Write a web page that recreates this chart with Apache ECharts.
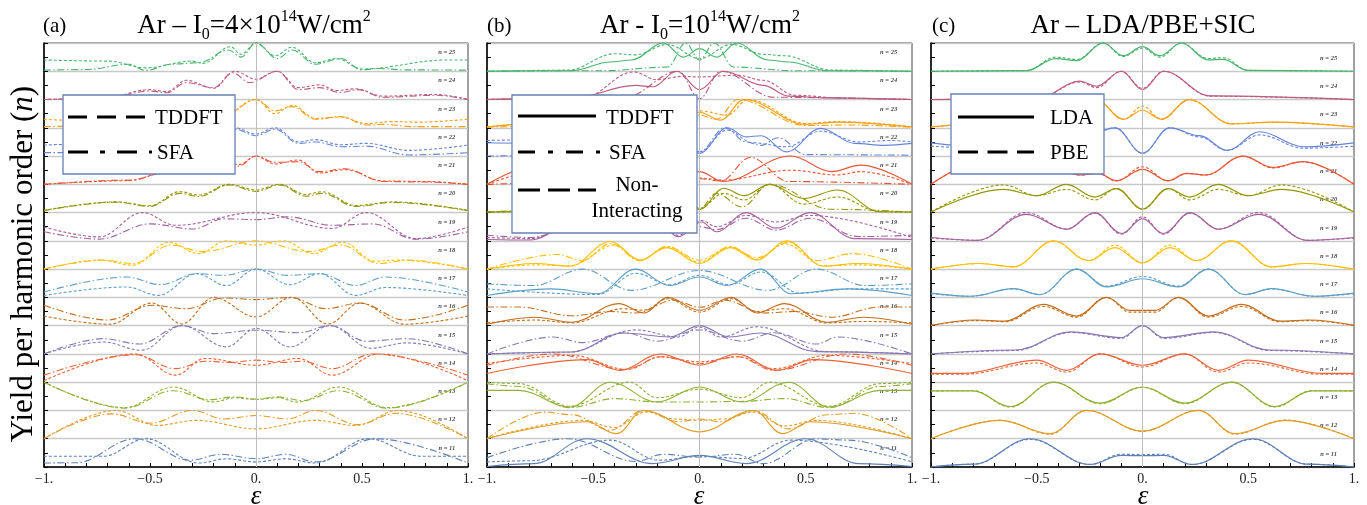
<!DOCTYPE html>
<html>
<head>
<meta charset="utf-8">
<script src="https://cdn.jsdelivr.net/npm/echarts@6/dist/echarts.min.js"></script>
<style>
html,body{margin:0;padding:0;background:#fff;}
#chart{width:1367px;height:505px;}
</style>
</head>
<body>
<div id="chart"></div>
<script>
// Harmonic orders stacked bottom (11) to top (25); one band per order.
const orders = [11,12,13,14,15,16,17,18,19,20,21,22,23,24,25];
const bandColors = ['#5e81b5','#e19c24','#8fb032','#eb6235','#8778b3','#c56e1a','#5d9ec7','#ffbf00',
                    '#a5609d','#929600','#e95536','#6685d9','#f89f13','#bc5b80','#47b66d'];
const xTickValues = [-1, -0.5, 0, 0.5, 1];

// Each entry: normalised yield (0..1 inside its band) at peaks/valleys of the curve, as [epsilon, yield].
// Panel (a): Ar, I0 = 4e14 W/cm2
const aTDDFT = [
 [[-1,.38],[-.72,.38],[-.52,1],[-.27,.14],[-.14,.29],[0,.18],[.14,.29],[.28,.14],[.53,1],[.78,.38],[1,.38]],
 [[-1,0],[-.66,1],[-.47,.47],[-.28,.65],[0,.35],[.28,.65],[.47,.47],[.67,1],[1,0]],
 [[-1,1],[-.62,.1],[-.39,.83],[-.2,.3],[-.1,.45],[0,.39],[.1,.45],[.2,.3],[.39,.83],[.62,.1],[1,1]],
 [[-1,.05],[-.57,1],[-.38,.25],[-.24,.84],[0,.6],[.2,.84],[.36,.25],[.58,1],[1,.05]],
 [[-1,0],[-.72,.42],[-.54,.13],[-.35,1],[-.14,.25],[0,.9],[.16,.25],[.35,1],[.54,.2],[.71,.39],[1,0]],
 [[-1,.34],[-.69,.05],[-.49,.8],[-.35,.06],[-.2,1],[0,.31],[.17,1],[.34,.06],[.49,.8],[.7,.05],[1,.34]],
 [[-1,.07],[-.61,.37],[-.46,.07],[-.28,.84],[-.14,.42],[0,1],[.16,.45],[.3,.84],[.47,.07],[.61,.35],[1,.07]],
 [[-1,0],[-.74,.32],[-.58,.14],[-.41,.95],[-.27,.55],[-.14,1],[0,.85],[.13,1],[.27,.55],[.41,.95],[.56,.28],[.68,.32],[1,0]],
 [[-1,.49],[-.74,.14],[-.535,1],[-.38,.55],[0,1],[.36,.44],[.52,1],[.755,.08],[1,.49]],
 [[-1,.08],[-.66,.38],[-.5,.24],[-.36,.74],[-.27,.62],[-.126,1],[0,.8],[.11,1],[.236,.64],[.31,.74],[.47,.25],[.645,.38],[1,.08]],
 [[-1,0],[-.6,.13],[-.4,.5],[-.28,.45],[-.17,.85],[-.08,.7],[0,1],[.09,.72],[.2,.86],[.3,.4],[.42,.52],[.6,.12],[.8,.1],[1,0]],
 [[-1,.39],[-.85,.42],[-.6,.3],[-.45,.5],[-.28,.55],[-.2,.45],[-.1,1],[0,.78],[.09,1],[.2,.5],[.28,.58],[.4,.4],[.52,.45],[.72,.2],[1,.39]],
 [[-1,.3],[-.8,.25],[-.6,.35],[-.45,.2],[-.3,.45],[-.17,.35],[0,1],[.09,.5],[.17,.8],[.28,.33],[.4,.38],[.52,.15],[.64,.22],[.76,.2],[1,.3]],
 [[-1,0],[-.72,.05],[-.5,.35],[-.42,.28],[-.33,.68],[-.2,.4],[-.1,1],[0,.72],[.1,1],[.2,.42],[.3,.52],[.38,.32],[.47,.38],[.6,.12],[.85,.18],[1,0]],
 [[-1,.4],[-.7,.36],[-.52,.12],[-.3,.36],[-.25,.28],[-.12,.87],[-.07,.6],[0,1],[.09,.55],[.17,.85],[.28,.3],[.38,.45],[.5,.08],[.9,.4],[1,.4]]
];
const aSFA = [
 [[-1,.14],[-.85,.15],[-.57,1],[-.31,.24],[-.165,.45],[0,.29],[.14,.45],[.28,.18],[.565,1],[1,.14]],
 [[-1,0],[-.68,.88],[-.5,.55],[-.3,1],[-.15,.7],[0,.82],[.15,.7],[.28,1],[.48,.5],[.66,.9],[1,0]],
 [[-1,1],[-.62,.08],[-.39,.7],[-.22,.38],[-.1,.48],[0,.4],[.1,.48],[.22,.35],[.39,.7],[.62,.08],[1,1]],
 [[-1,.25],[-.57,.97],[-.38,.48],[-.24,.74],[-.12,.7],[0,.78],[.12,.7],[.22,.74],[.36,.48],[.55,1],[1,.25]],
 [[-1,0],[-.72,.54],[-.55,.35],[-.35,1],[-.2,.72],[0,.84],[.2,.75],[.35,1],[.52,.45],[.71,.54],[1,0]],
 [[-1,.72],[-.7,.2],[-.49,.72],[-.33,.6],[-.15,.98],[0,.92],[.16,1],[.33,.6],[.49,.8],[.7,.2],[1,.72]],
 [[-1,.19],[-.61,.72],[-.45,.45],[-.28,.84],[-.15,.78],[0,1],[.15,.78],[.3,.84],[.47,.42],[.61,.72],[1,.19]],
 [[-1,0],[-.72,.32],[-.58,.2],[-.4,.85],[-.25,.62],[0,1],[.25,.62],[.4,.85],[.58,.2],[.72,.32],[1,0]],
 [[-1,.32],[-.74,.06],[-.5,.6],[-.3,.42],[-.15,.78],[0,.75],[.15,.85],[.36,.55],[.55,.6],[.755,.06],[1,.32]],
 [[-1,.07],[-.66,.37],[-.5,.22],[-.36,.68],[-.27,.57],[-.126,.98],[0,.75],[.11,.98],[.236,.58],[.31,.68],[.47,.22],[.645,.36],[1,.07]],
 [[-1,0],[-.6,.15],[-.4,.45],[-.28,.4],[-.17,.8],[-.08,.65],[0,1],[.09,.78],[.2,.8],[.3,.45],[.42,.55],[.6,.1],[.8,.08],[1,0]],
 [[-1,.12],[-.85,.12],[-.5,.4],[-.38,.3],[-.28,.5],[-.2,.4],[-.1,.95],[0,.72],[.09,.95],[.2,.45],[.28,.5],[.4,.33],[.52,.35],[.72,.04],[1,.12]],
 [[-1,.04],[-.8,.06],[-.6,.3],[-.45,.15],[-.3,.4],[-.17,.3],[0,1],[.09,.6],[.17,.75],[.28,.3],[.4,.4],[.52,.1],[.6,.12],[.75,.04],[1,.04]],
 [[-1,0],[-.72,.03],[-.5,.3],[-.42,.24],[-.33,.6],[-.2,.42],[-.11,.95],[-.03,.6],[.1,1],[.2,.35],[.3,.42],[.4,.25],[.48,.35],[.6,.08],[.85,.15],[1,0]],
 [[-1,.04],[-.8,.06],[-.6,.25],[-.52,.03],[-.4,.25],[-.27,.3],[-.13,.75],[-.07,.5],[0,1],[.1,.45],[.17,.75],[.28,.25],[.4,.45],[.5,.05],[.58,.1],[.7,.05],[1,.04]]
];

// Panel (b): Ar, I0 = 1e14 W/cm2
const bTDDFT = [
 [[-1,.02],[-.78,.12],[-.53,1],[-.22,.12],[0,.41],[.22,.12],[.5,1],[.75,.12],[1,.02]],
 [[-1,0],[-.53,.6],[-.39,.18],[-.264,1],[0,.24],[.255,1],[.39,.18],[.52,.6],[1,0]],
 [[-1,.71],[-.85,.71],[-.61,.12],[-.42,1],[-.2,.3],[0,.83],[.2,.3],[.42,1],[.61,.12],[.85,.71],[1,.71]],
 [[-1,.31],[-.53,.8],[-.374,.42],[-.185,1],[0,.6],[.176,1],[.364,.42],[.537,.8],[1,.31]],
 [[-1,0],[-.6,.07],[-.36,.74],[-.14,.6],[0,1],[.14,.6],[.29,.74],[.55,.08],[1,0]],
 [[-1,.05],[-.77,.3],[-.6,.12],[-.38,.78],[-.26,.45],[-.15,1],[0,.54],[.15,1],[.27,.45],[.4,.78],[.6,.12],[.77,.3],[1,.05]],
 [[-1,.07],[-.7,.3],[-.48,.13],[-.3,1],[-.14,.42],[0,.72],[.13,.42],[.286,1],[.43,.13],[.7,.3],[1,.07]],
 [[-1,0],[-.77,.2],[-.61,.1],[-.42,.98],[-.28,.32],[-.154,.76],[0,.2],[.145,.76],[.27,.32],[.41,1],[.585,.1],[.74,.2],[1,0]],
 [[-1,.05],[-.8,.03],[-.52,1],[-.36,.45],[-.22,1],[-.1,.15],[.01,.67],[.08,.32],[.22,1],[.36,.45],[.52,1],[.73,.08],[1,.05]],
 [[-1,.02],[-.85,.03],[-.65,.8],[-.49,.5],[-.33,1],[-.21,.6],[-.11,.86],[0,.1],[.113,.86],[.21,.6],[.33,1],[.49,.5],[.65,.8],[.85,.03],[1,.02]],
 [[-1,0],[-.76,.68],[-.62,.45],[-.43,1],[-.11,.1],[0,.45],[.11,.1],[.43,1],[.62,.45],[.76,.68],[1,0]],
 [[-1,.47],[-.7,.45],[-.41,.95],[-.29,.6],[-.13,1],[0,.1],[.13,1],[.22,.68],[.29,.72],[.41,.15],[.57,.98],[.73,.45],[.87,.38],[1,.45]],
 [[-1,.03],[-.65,.2],[-.5,.12],[-.22,1],[-.1,.27],[0,.55],[.1,.27],[.21,1],[.5,.12],[.65,.2],[1,.03]],
 [[-1,0],[-.6,.05],[-.3,.5],[-.22,.45],[-.107,1],[0,.35],[.113,1],[.3,.5],[.42,.12],[.6,.06],[1,0]],
 [[-1,0],[-.6,.02],[-.42,.33],[-.32,.4],[-.17,1],[-.075,.5],[0,.8],[.08,.5],[.176,1],[.32,.4],[.42,.33],[.6,.02],[1,0]]
];
const bSFA = [
 [[-1,.33],[-.62,1],[-.3,.2],[-.17,.45],[0,.35],[.17,.45],[.3,.12],[.55,1],[.7,.95],[1,.33]],
 [[-1,0],[-.73,.94],[-.6,.85],[-.42,.3],[-.264,1],[-.1,.6],[0,.7],[.1,.6],[.255,1],[.42,.35],[.6,.85],[.73,.9],[1,0]],
 [[-1,.95],[-.85,.85],[-.61,.1],[-.4,.42],[-.2,.3],[0,.3],[.2,.32],[.4,.42],[.61,.1],[.85,.85],[1,.95]],
 [[-1,.6],[-.69,1],[-.35,.45],[-.18,.9],[0,.66],[.18,.9],[.35,.42],[.69,1],[1,.6]],
 [[-1,0],[-.69,.6],[-.55,.4],[-.35,.75],[-.2,.45],[0,.85],[.2,.45],[.35,.75],[.55,.35],[.65,.6],[1,0]],
 [[-1,.66],[-.85,.66],[-.6,.35],[-.42,.5],[-.3,.45],[-.12,.9],[0,.65],[.12,.9],[.3,.45],[.45,.5],[.62,.3],[.85,.66],[1,.66]],
 [[-1,.48],[-.78,.42],[-.55,1],[-.32,.25],[0,.95],[.32,.25],[.55,1],[.78,.42],[1,.48]],
 [[-1,0],[-.67,.52],[-.55,.3],[-.42,.9],[-.28,.3],[-.154,.8],[0,.32],[.145,.78],[.27,.4],[.42,.95],[.55,.3],[.72,.55],[1,0]],
 [[-1,.2],[-.8,.12],[-.5,.8],[-.36,.38],[-.22,.8],[-.1,.35],[0,.5],[.08,.4],[.22,.8],[.36,.38],[.52,.8],[.75,.15],[1,.2]],
 [[-1,.02],[-.62,.12],[-.33,1],[-.2,.2],[-.08,.68],[0,.14],[.08,.68],[.2,.2],[.33,1],[.62,.12],[1,.02]],
 [[-1,0],[-.7,.05],[-.42,.1],[-.24,.95],[-.1,.12],[0,.2],[.1,.12],[.24,.95],[.42,.1],[1,0]],
 [[-1,0],[-.55,.03],[-.38,.6],[-.28,.35],[-.12,1],[0,.15],[.12,1],[.22,.5],[.29,.38],[.37,.65],[.5,.05],[1,.03]],
 [[-1,.02],[-.5,.08],[-.18,1],[-.08,.3],[0,.45],[.08,.3],[.18,1],[.5,.08],[.7,.1],[1,.02]],
 [[-1,0],[-.35,.08],[-.1,1],[0,.03],[.1,1],[.35,.08],[1,0]],
 [[-1,0],[-.45,.02],[-.15,.15],[-.065,1],[0,.4],[.07,1],[.16,.15],[.45,.02],[1,0]]
];
const bNonInt = [
 [[-1,.18],[-.8,.22],[-.42,.95],[-.19,.24],[0,.38],[.2,.3],[.43,.95],[1,.18]],
 [[-1,0],[-.55,.65],[-.4,.4],[-.25,.95],[-.12,.7],[0,.65],[.12,.7],[.25,.95],[.4,.45],[.55,.65],[1,0]],
 [[-1,1],[-.85,.95],[-.61,.15],[-.33,1],[-.2,.45],[0,.75],[.2,.45],[.33,1],[.61,.15],[.85,.95],[1,1]],
 [[-1,.66],[-.6,.95],[-.34,.45],[-.185,.9],[0,.72],[.18,.9],[.35,.48],[.6,.95],[1,.66]],
 [[-1,0],[-.62,.06],[-.3,.85],[-.1,.6],[0,.95],[.1,.6],[.27,.96],[.6,.08],[1,0]],
 [[-1,.1],[-.77,.2],[-.6,.1],[-.36,.6],[-.26,.55],[-.15,.95],[0,.48],[.15,.95],[.27,.5],[.4,.6],[.6,.1],[.77,.15],[1,.1]],
 [[-1,.3],[-.48,.1],[-.3,.85],[-.14,.45],[0,.78],[.14,.45],[.29,.9],[.47,.15],[.72,.3],[1,.3]],
 [[-1,0],[-.77,.15],[-.61,.12],[-.4,.85],[-.28,.3],[-.154,.8],[0,.25],[.145,.8],[.27,.35],[.4,.9],[.585,.12],[.74,.15],[1,0]],
 [[-1,.12],[-.8,.08],[-.52,.9],[-.36,.55],[-.22,.9],[-.1,.2],[.01,.72],[.08,.5],[.22,.9],[.36,.67],[.52,.9],[1,.12]],
 [[-1,.02],[-.85,.03],[-.65,.55],[-.49,.3],[-.33,1],[-.21,.45],[-.11,.68],[0,.15],[.113,.68],[.21,.45],[.33,1],[.49,.3],[.65,.55],[.85,.03],[1,.02]],
 [[-1,0],[-.76,.45],[-.65,.33],[-.43,.5],[-.11,.15],[0,.22],[.11,.15],[.43,.5],[.65,.33],[.76,.45],[1,0]],
 [[-1,.55],[-.85,.57],[-.57,.85],[-.41,.33],[-.25,.47],[-.13,.92],[0,.15],[.13,.92],[.25,.47],[.41,.33],[.57,.88],[.75,.5],[.9,.55],[1,.5]],
 [[-1,.04],[-.65,.2],[-.5,.15],[-.23,1],[-.13,.45],[0,.6],[.13,.45],[.23,1],[.5,.15],[.65,.22],[1,.04]],
 [[-1,0],[-.55,.05],[-.31,.98],[-.2,.7],[-.08,.82],[0,.8],[.18,.86],[.3,.68],[.45,.15],[.7,.04],[1,0]],
 [[-1,0],[-.62,.04],[-.4,.62],[-.3,.58],[-.15,.95],[0,.45],[.15,.95],[.3,.6],[.4,.55],[.62,.04],[1,0]]
];

// Panel (c): Ar, LDA vs PBE with self-interaction correction
const cLDA = [
 [[-1,0],[-.8,.1],[-.532,1],[-.249,.09],[-.1,.41],[0,.4],[.1,.41],[.235,.09],[.522,1],[.78,.1],[1,0]],
 [[-1,0],[-.673,.65],[-.437,.18],[-.264,1],[0,.27],[.264,1],[.437,.18],[.673,.65],[1,0]],
 [[-1,.69],[-.8,.69],[-.626,.14],[-.42,1],[-.2,.26],[0,.83],[.2,.26],[.42,1],[.626,.14],[.8,.69],[1,.69]],
 [[-1,.31],[-.85,.31],[-.5,.78],[-.359,.42],[-.2,1],[0,.6],[.2,1],[.359,.42],[.5,.78],[.85,.31],[1,.31]],
 [[-1,0],[-.6,.14],[-.34,.78],[-.1,.58],[0,1],[.1,.58],[.34,.78],[.6,.14],[1,0]],
 [[-1,.01],[-.784,.2],[-.65,.16],[-.469,.75],[-.311,.34],[-.17,1],[-.06,.54],[0,.54],[.06,.54],[.17,1],[.311,.34],[.469,.75],[.65,.16],[.784,.2],[1,.01]],
 [[-1,.15],[-.815,.04],[-.61,.31],[-.485,.1],[-.311,1],[-.17,.37],[0,.66],[.17,.37],[.311,1],[.485,.1],[.61,.31],[.815,.04],[1,.15]],
 [[-1,0],[-.768,.2],[-.61,.08],[-.42,1],[-.256,.3],[-.13,.76],[0,.22],[.13,.76],[.256,.3],[.42,1],[.61,.08],[.768,.2],[1,0]],
 [[-1,.12],[-.78,.02],[-.548,.94],[-.359,.41],[-.225,1],[-.099,.26],[0,.79],[.099,.26],[.225,1],[.359,.41],[.548,.94],[.78,.02],[1,.12]],
 [[-1,.02],[-.657,.82],[-.5,.6],[-.36,1],[-.225,.55],[-.123,.85],[0,.12],[.121,.85],[.223,.55],[.357,1],[.5,.6],[.657,.82],[1,.02]],
 [[-1,0],[-.76,.8],[-.62,.6],[-.475,1],[-.3,.33],[-.21,.39],[-.123,.13],[0,.53],[.121,.13],[.208,.39],[.3,.33],[.475,1],[.617,.6],[.758,.8],[1,0]],
 [[-1,.47],[-.76,.33],[-.554,.86],[-.4,.2],[-.27,.72],[-.13,1],[0,.1],[.129,1],[.27,.72],[.4,.2],[.554,.86],[.76,.33],[1,.47]],
 [[-1,.03],[-.62,.2],[-.42,.14],[-.22,1],[-.09,.3],[0,.62],[.09,.3],[.22,1],[.42,.14],[.62,.2],[1,.03]],
 [[-1,0],[-.5,.02],[-.296,.65],[-.217,.47],[-.1,1],[0,.35],[.1,1],[.32,.13],[1,0]],
 [[-1,0],[-.55,.02],[-.41,.45],[-.31,.38],[-.186,1],[-.091,.55],[0,.87],[.082,.55],[.184,1],[.31,.4],[.38,.42],[.5,.03],[1,0]]
];
const cPBE = [
 [[-1,.01],[-.8,.1],[-.532,.98],[-.249,.09],[-.1,.45],[0,.44],[.1,.45],[.235,.09],[.522,.98],[.78,.1],[1,.01]],
 [[-1,0],[-.673,.66],[-.437,.16],[-.264,1],[0,.26],[.264,1],[.437,.16],[.673,.66],[1,0]],
 [[-1,.69],[-.8,.7],[-.626,.12],[-.42,1],[-.2,.24],[0,.82],[.2,.24],[.42,1],[.626,.12],[.8,.7],[1,.69]],
 [[-1,.28],[-.85,.28],[-.5,.68],[-.359,.36],[-.2,1],[0,.54],[.2,1],[.359,.36],[.5,.68],[.85,.28],[1,.28]],
 [[-1,0],[-.6,.12],[-.34,.76],[-.1,.55],[0,1],[.1,.55],[.34,.76],[.6,.12],[1,0]],
 [[-1,.01],[-.784,.18],[-.65,.14],[-.469,.68],[-.311,.3],[-.17,1],[-.06,.48],[0,.48],[.06,.48],[.17,1],[.311,.3],[.469,.68],[.65,.14],[.784,.18],[1,.01]],
 [[-1,.13],[-.815,.04],[-.61,.3],[-.485,.1],[-.311,1],[-.17,.4],[0,.74],[.17,.4],[.311,1],[.485,.1],[.61,.3],[.815,.04],[1,.13]],
 [[-1,0],[-.768,.2],[-.61,.08],[-.42,1],[-.256,.3],[-.13,.85],[0,.22],[.13,.85],[.256,.3],[.42,1],[.61,.08],[.768,.2],[1,0]],
 [[-1,.1],[-.78,.02],[-.548,1],[-.359,.42],[-.225,.98],[-.099,.24],[0,.85],[.099,.24],[.225,.98],[.359,.42],[.548,1],[.78,.02],[1,.1]],
 [[-1,.02],[-.657,.98],[-.5,.6],[-.36,.82],[-.225,.45],[-.123,.85],[0,.12],[.121,.85],[.223,.45],[.357,.82],[.5,.6],[.657,.98],[1,.02]],
 [[-1,0],[-.76,.8],[-.62,.58],[-.475,1],[-.3,.33],[-.21,.38],[-.123,.12],[0,.62],[.121,.12],[.208,.38],[.3,.33],[.475,1],[.617,.58],[.758,.8],[1,0]],
 [[-1,.35],[-.76,.28],[-.554,.75],[-.4,.2],[-.27,.68],[-.13,1],[0,.1],[.129,1],[.27,.68],[.4,.2],[.554,.75],[.76,.28],[1,.35]],
 [[-1,.03],[-.62,.2],[-.42,.14],[-.22,1],[-.09,.3],[0,.77],[.09,.3],[.22,1],[.42,.14],[.62,.2],[1,.03]],
 [[-1,0],[-.5,.02],[-.296,.62],[-.217,.42],[-.1,1],[0,.4],[.1,1],[.32,.12],[1,0]],
 [[-1,0],[-.55,.02],[-.41,.5],[-.31,.42],[-.186,1],[-.091,.52],[0,.82],[.082,.5],[.184,1],[.31,.45],[.38,.48],[.5,.03],[1,0]]
];

// ---------------------------------------------------------------- drawing
const FONT = "'Liberation Serif','Times New Roman',serif";
const DASH = [3, 2];
const DASHDOT = [7, 2.5, 1.5, 2.5];

const grids = [
  { left: 44,  top: 43, width: 424, height: 424 },
  { left: 487, top: 43, width: 425, height: 424 },
  { left: 931, top: 43, width: 423, height: 424 }
];

function tickLabel(v) {
  const m = xTickValues.find(t => Math.abs(t - v) < 1e-6);
  if (m === undefined) return '';
  const s = Number.isInteger(m) ? m + '.' : String(m);
  return s.replace('-', '\u2212');
}

const xAxes = grids.map((g, i) => ({
  type: 'value', gridIndex: i, min: -1, max: 1, interval: 0.1,
  axisLine: { show: true, onZero: false, lineStyle: { color: '#000', width: 1.5 } },
  axisTick: { show: true, inside: true, length: 4, lineStyle: { color: '#000', width: 1 } },
  axisLabel: { show: true, formatter: tickLabel, fontFamily: FONT, fontSize: 14, color: '#222', margin: 5 },
  splitLine: { show: false }
}));

const yAxes = grids.map((g, i) => ({
  type: 'value', gridIndex: i, min: 0, max: 15, interval: 1,
  axisLine: { show: true, onZero: false, lineStyle: { color: '#000', width: 1.5 } },
  axisTick: { show: true, inside: true, length: 4, lineStyle: { color: '#000', width: 1 } },
  minorTick: { show: true, splitNumber: 2, length: 4, lineStyle: { color: '#000', width: 1 } },
  axisLabel: { show: false },
  splitLine: { show: true, lineStyle: { color: '#c9c9c9', width: 1.3 } }
}));

function curves(panel, list, dash, width) {
  return list.map((pts, k) => ({
    type: 'line', xAxisIndex: panel, yAxisIndex: panel,
    data: pts.map(p => [p[0], k + p[1]]),
    symbol: 'none', showSymbol: false, smooth: 0.37, smoothMonotone: 'x',
    clip: false, silent: true, z: 3,
    lineStyle: { color: bandColors[k], width: width, type: dash }
  }));
}

function bandLabels(panel, xPos, frac) {
  return {
    type: 'scatter', xAxisIndex: panel, yAxisIndex: panel, z: 2, silent: true,
    symbolSize: 1, itemStyle: { color: 'rgba(0,0,0,0)' },
    data: orders.map((n, k) => [xPos, k + frac, n]),
    label: { show: true, position: 'inside', formatter: d => 'n = ' + d.value[2],
             fontFamily: FONT, fontSize: 6.5, fontStyle: 'italic', fontWeight: 'bold', color: '#111' },
    markLine: { silent: true, symbol: ['none', 'none'], label: { show: false },
                lineStyle: { color: '#bdbdbd', width: 1, type: 'solid' }, data: [{ xAxis: 0 }] }
  };
}

const series = [].concat(
  bandLabels(0, 0.9, 0.67), bandLabels(1, 0.89, 0.67), bandLabels(2, 0.88, 0.46),
  curves(0, aTDDFT, DASH, 1.1), curves(0, aSFA, DASHDOT, 1.1),
  curves(1, bNonInt, DASH, 1.1), curves(1, bSFA, DASHDOT, 1.1), curves(1, bTDDFT, 'solid', 1.1),
  curves(2, cPBE, DASH, 1.1), curves(2, cLDA, 'solid', 1.2)
);

function txt(x, y, text, size, extra) {
  return { type: 'text', x: x, y: y, z: 102,
    style: Object.assign({ text: text, fontFamily: FONT, fontSize: size, fill: '#000',
                           align: 'center', verticalAlign: 'middle' }, extra || {}) };
}
const titleRich = {
  sub: { fontFamily: FONT, fontSize: 16, lineHeight: 13, verticalAlign: 'bottom' },
  sup: { fontFamily: FONT, fontSize: 16, lineHeight: 20, verticalAlign: 'top' }
};
function legendLine(x1, x2, y, dash) {
  return { type: 'line', z: 101, shape: { x1: x1, y1: y, x2: x2, y2: y },
           style: { stroke: '#000', lineWidth: 3.2, lineDash: dash } };
}
function legendBox(x, y, w, h) {
  return { type: 'rect', z: 100, shape: { x: x, y: y, width: w, height: h },
           style: { stroke: '#6480b6', lineWidth: 1.3, fill: '#fff' } };
}

const graphics = [
  txt(43, 26, '(a)', 21, { align: 'left' }),
  txt(254, 26, 'Ar \u2013 I{sub|0}=4\u00d710{sup|14}W/cm{sup|2}', 27, { lineHeight: 34, rich: titleRich }),
  txt(487, 26, '(b)', 21, { align: 'left' }),
  txt(700, 26, 'Ar - I{sub|0}=10{sup|14}W/cm{sup|2}', 27, { lineHeight: 34, rich: titleRich }),
  txt(932, 26, '(c)', 21, { align: 'left' }),
  txt(1143, 26, 'Ar \u2013 LDA/PBE+SIC', 27),
  Object.assign(txt(24, 264, 'Yield per harmonic order ({it|n})', 31,
    { rich: { it: { fontFamily: FONT, fontSize: 31, fontStyle: 'italic' } } }), { rotation: Math.PI / 2 }),
  txt(256, 497, '\u03b5', 27, { fontStyle: 'italic' }),
  txt(699, 497, '\u03b5', 27, { fontStyle: 'italic' }),
  txt(1143, 497, '\u03b5', 27, { fontStyle: 'italic' }),
  // legend (a)
  legendBox(63, 95, 172, 79),
  legendLine(68, 146, 117, [19, 10]),
  txt(155, 118, 'TDDFT', 21, { align: 'left' }),
  legendLine(68, 152, 152, [20, 12, 5, 12]),
  txt(157, 153, 'SFA', 21, { align: 'left' }),
  // legend (b)
  legendBox(512, 95, 185, 138),
  legendLine(518, 596, 116, null),
  txt(606, 118, 'TDDFT', 21, { align: 'left' }),
  legendLine(518, 600, 152, [17, 13, 5, 13]),
  txt(609, 153, 'SFA', 21, { align: 'left' }),
  legendLine(518, 596, 190, [22, 8]),
  txt(637, 185, 'Non-', 21),
  txt(637, 211, 'Interacting', 21),
  // legend (c)
  legendBox(951, 94, 153, 80),
  legendLine(958, 1034, 117, null),
  txt(1050, 118, 'LDA', 21, { align: 'left' }),
  legendLine(958, 1034, 152, [20, 9.5]),
  txt(1050, 153, 'PBE', 21, { align: 'left' })
];

const chart = echarts.init(document.getElementById('chart'), null, { renderer: 'canvas' });
chart.setOption({
  animation: false,
  backgroundColor: '#fff',
  grid: grids.map(g => Object.assign({ show: true, borderColor: '#444', borderWidth: 1,
                                       backgroundColor: 'rgba(0,0,0,0)', containLabel: false }, g)),
  xAxis: xAxes,
  yAxis: yAxes,
  series: series,
  graphic: { elements: graphics }
});
</script>
</body>
</html>
